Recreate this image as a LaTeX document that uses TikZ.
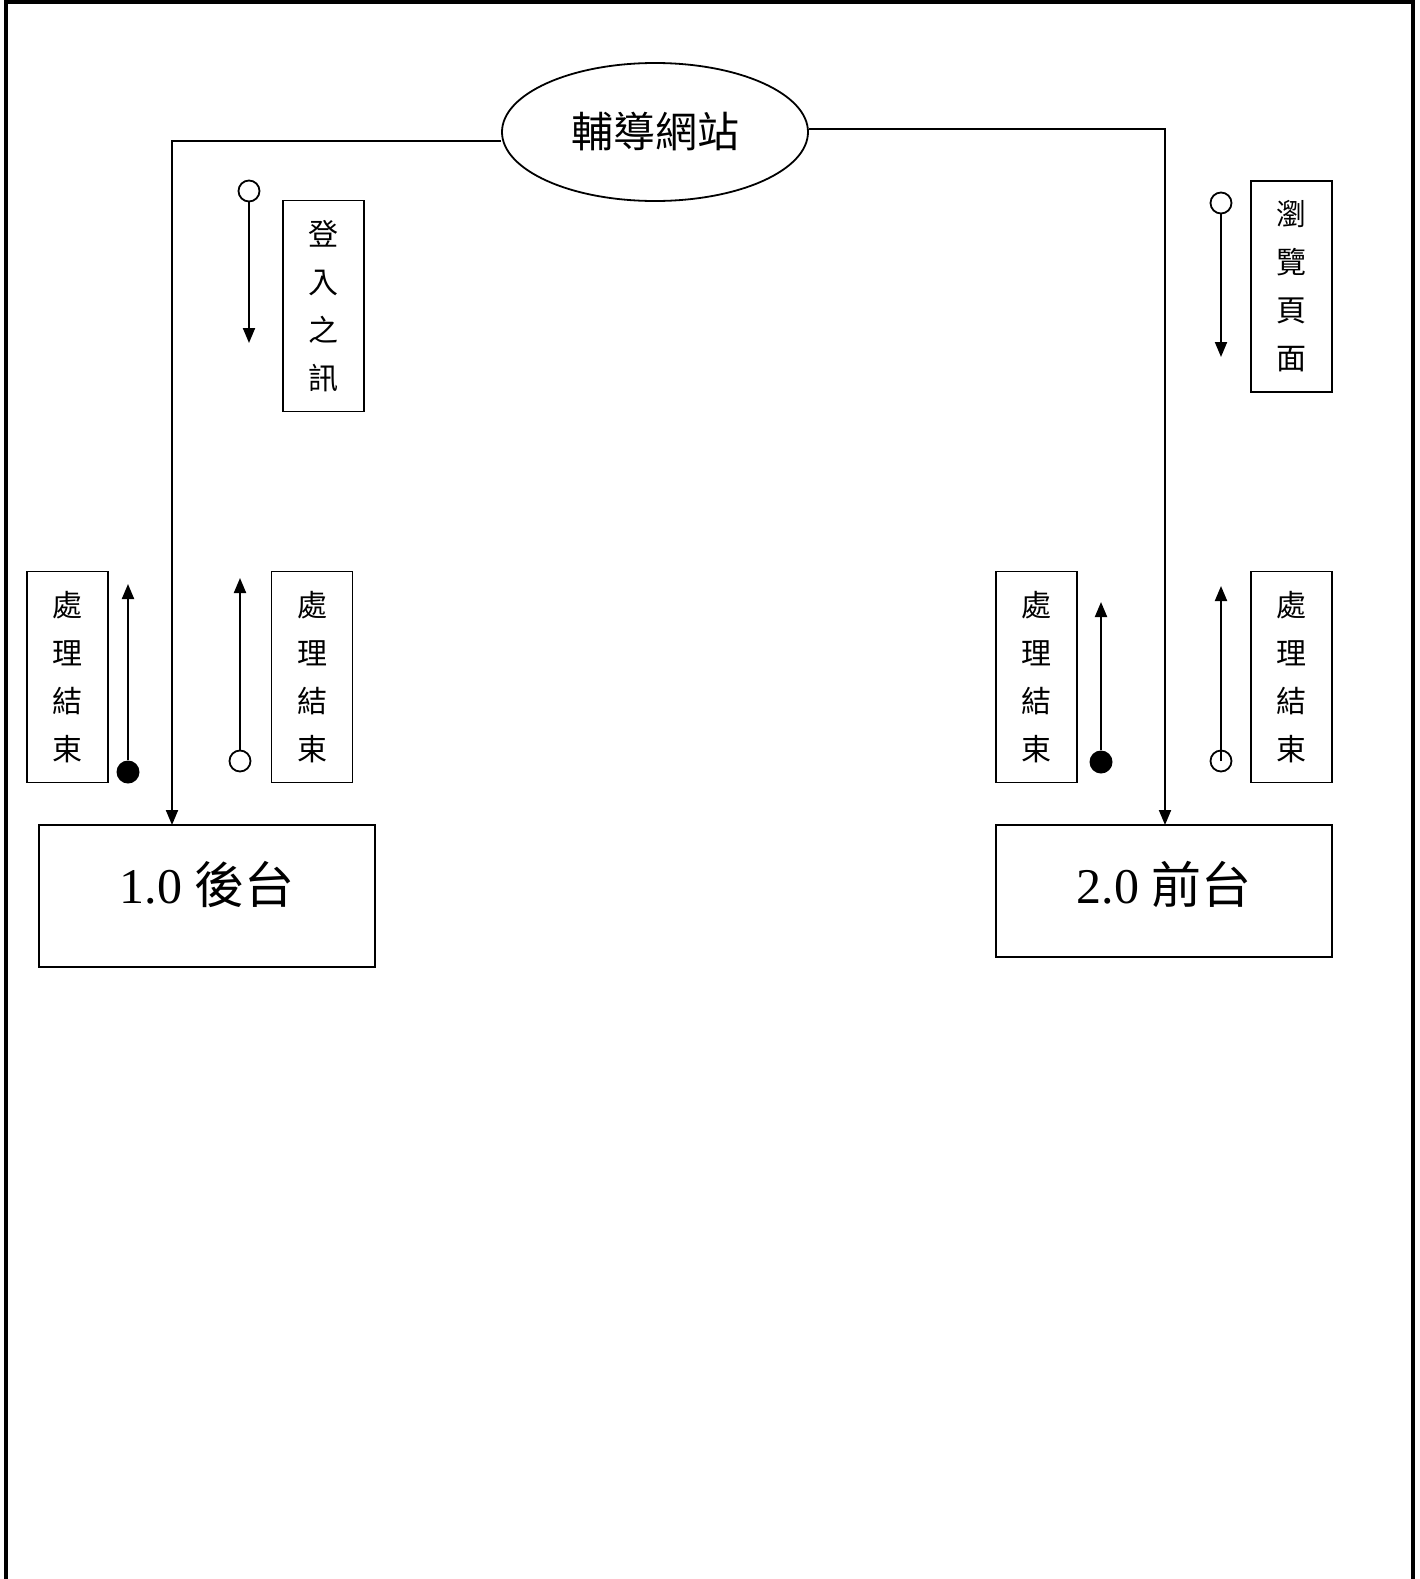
\documentclass[tikz,border=0pt]{standalone}
\usepackage{fontspec}
\setmainfont{Liberation Serif}
\newfontfamily\cjk{Noto Sans CJK TC}
\usetikzlibrary{arrows.meta,shapes.geometric}
\tikzset{
  conn/.style={line width=2pt,-{Triangle[length=15pt,width=12pt]}},
  lbl/.style={draw,line width=1.8pt,minimum width=81pt,minimum height=211pt,inner sep=0pt,align=center,font=\cjk\fontsize{30}{48}\selectfont},
  mainbox/.style={draw,line width=1.8pt,inner sep=0pt},
  opendot/.style={circle,draw,line width=1.8pt,fill=white,minimum size=21pt,inner sep=0pt},
  filldot/.style={circle,fill=black,minimum size=23pt,inner sep=0pt},
}
\begin{document}
\begin{tikzpicture}[x=1pt,y=-1pt]
\useasboundingbox (0,0) rectangle (1419,1579);
% frame
\draw[line width=4pt] (6,1579) -- (6,2) -- (1413,2) -- (1413,1579);
% ellipse
\node[ellipse,draw,line width=1.8pt,minimum width=306pt,minimum height=138pt,inner sep=0pt,font=\cjk\fontsize{42}{42}\selectfont] (site) at (655,132) {輔導網站};
% main boxes
\node[mainbox,minimum width=336pt,minimum height=142pt] (b1) at (207,896) {};
\node[font=\fontsize{50}{50}\selectfont] (t1) at (207,884) {1.0 {\cjk 後台}};
\node[mainbox,minimum width=336pt,minimum height=132pt] (b2) at (1164,891) {};
\node[font=\fontsize{50}{50}\selectfont] (t2) at (1164,884) {2.0 {\cjk 前台}};
\coordinate (lcorner) at (172,141);
\coordinate (rcorner) at (1165,129);
\draw[conn] (site.west |- lcorner) -- (lcorner) -- (172,825);
\draw[conn] (site.east |- rcorner) -- (rcorner) -- (1165,825);
% label boxes
\node[lbl] (login) at (323.5,306) {登\\入\\之\\訊};
\node[lbl] (browse) at (1291.5,286.5) {瀏\\覽\\頁\\面};
\node[lbl] (p1) at (67.5,677) {處\\理\\結\\束};
\node[lbl] (p2) at (312,677) {處\\理\\結\\束};
\node[lbl] (p3) at (1036.5,677) {處\\理\\結\\束};
\node[lbl] (p4) at (1291.5,677) {處\\理\\結\\束};
% flow arrows
\node[opendot] (d1) at (249,191) {};
\coordinate (a1) at (249,343);
\draw[conn] (d1) -- (a1);
\node[opendot] (d2) at (1221,203) {};
\coordinate (a2) at (1221,357);
\draw[conn] (d2) -- (a2);
\node[filldot] (d3) at (128,772) {};
\coordinate (a3) at (128,584);
\draw[conn] (d3) -- (a3);
\node[opendot] (d4) at (240,761) {};
\coordinate (a4) at (240,578);
\draw[conn] (d4) -- (a4);
\node[filldot] (d5) at (1101,762) {};
\coordinate (a5) at (1101,602);
\draw[conn] (d5) -- (a5);
\node[opendot] (d6) at (1221,761) {};
\coordinate (a6) at (1221,586);
\draw[conn] (d6.center) -- (a6);
\end{tikzpicture}
\end{document}
